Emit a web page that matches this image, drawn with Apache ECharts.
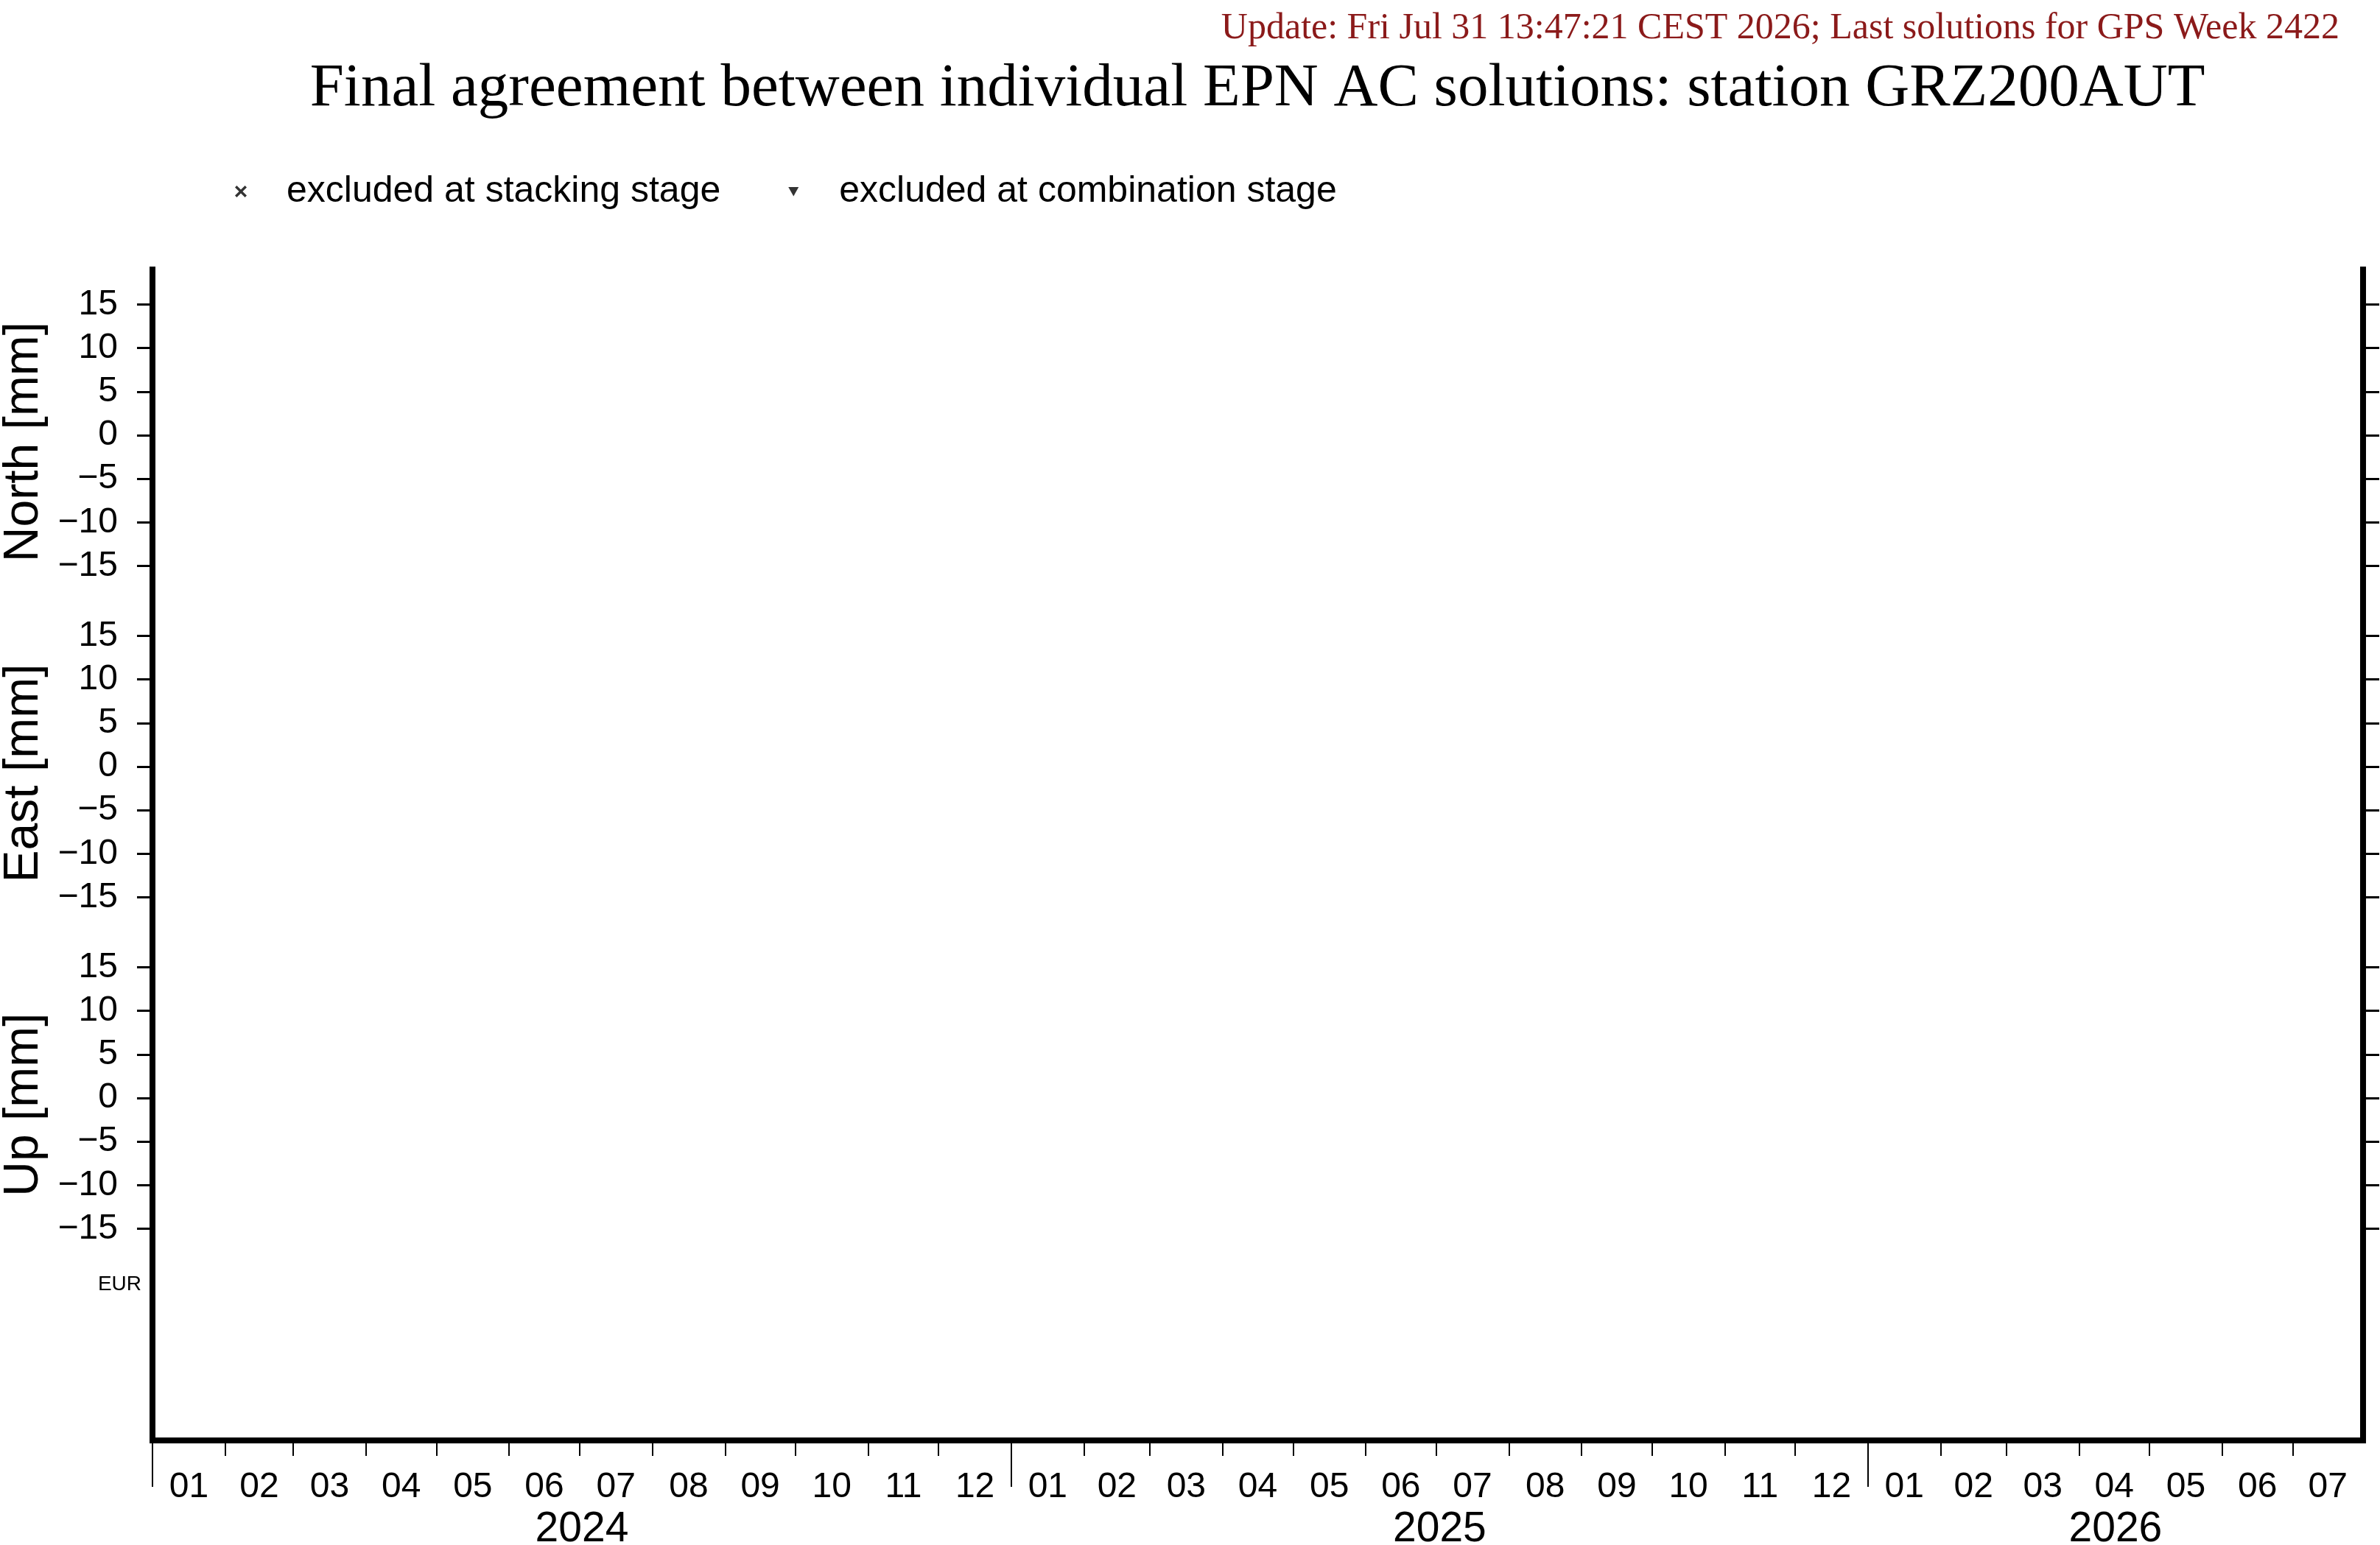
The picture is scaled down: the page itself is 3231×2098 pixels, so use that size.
<!DOCTYPE html>
<html><head><meta charset="utf-8">
<script src="https://cdn.jsdelivr.net/npm/echarts@6/dist/echarts.min.js"></script>
<style>html,body{margin:0;padding:0;background:#fff}#c{width:3231px;height:2098px}</style>
</head><body><div id="c"></div>
<script>
// ---- data / text ----
const TITLE = 'Final agreement between individual EPN AC solutions: station GRZ200AUT';
const UPDATE = 'Update: Fri Jul 31 13:47:21 CEST 2026; Last solutions for GPS Week 2422';
const LEGEND_NAMES = ['excluded at stacking stage', 'excluded at combination stage'];
const PANEL_NAMES = ['North [mm]', 'East [mm]', 'Up [mm]'];
const Y_TICKS = [-15, -10, -5, 0, 5, 10, 15];
const Y_MIN = -19, Y_MAX = 19;
const stackingExcluded = [];     // no points in this plot
const combinationExcluded = [];  // no points in this plot
const START = [2024, 1, 1];
const END = [2026, 7, 31];
const YEARS = [2024, 2025, 2026];
const MONTH_LABELS = ['01','02','03','04','05','06','07','08','09','10','11','12'];
const REF_FRAME = 'EUR';

// ---- helpers ----
const T0 = Date.UTC(START[0], START[1] - 1, START[2]);
const day = (y, m, d) => (Date.UTC(y, m - 1, d) - T0) / 864e5;
const X_MAX = day(END[0], END[1], END[2]);
const monthTicks = [], monthLabelVals = [], monthLabelMap = {};
YEARS.forEach(y => {
  for (let m = 1; m <= 12; m++) {
    const s = day(y, m, 1);
    if (s >= X_MAX) break;
    const e = Math.min(day(m === 12 ? y + 1 : y, m === 12 ? 1 : m + 1, 1), X_MAX);
    monthTicks.push(s);
    const mid = (s + e) / 2;
    monthLabelVals.push(mid);
    monthLabelMap[mid] = MONTH_LABELS[m - 1];
  }
});
const yearTicks = [], yearLabelVals = [], yearLabelMap = {};
YEARS.forEach(y => {
  const s = Math.max(day(y, 1, 1), 0), e = Math.min(day(y + 1, 1, 1), X_MAX);
  yearTicks.push(day(y, 1, 1));
  const mid = (s + e) / 2;
  yearLabelVals.push(mid);
  yearLabelMap[mid] = String(y);
});
const fmtY = v => (v < 0 ? '\u2212' + Math.abs(v) : String(v));

const SANS = 'Liberation Sans', SERIF = 'Liberation Serif';
const GL = 207, GR = 23, FRAME_TOP = 366, FRAME_BOTTOM = 142;
const PANEL_TOP = 366, PANEL_H = 450;

const grids = [{ left: GL, right: GR, top: FRAME_TOP, bottom: FRAME_BOTTOM, outerBoundsMode: 'none', containLabel: false }];
const xAxes = [
  { gridIndex: 0, type: 'value', min: 0, max: X_MAX, position: 'bottom',
    axisLine: { show: true, onZero: false, lineStyle: { color: '#000', width: 8, cap: 'square' } },
    axisTick: { show: true, customValues: monthTicks, length: 21, lineStyle: { color: '#000', width: 2 } },
    axisLabel: { show: true, customValues: monthLabelVals, margin: 40, formatter: v => monthLabelMap[v] || '',
      color: '#000', fontFamily: SANS, fontSize: 48 },
    splitLine: { show: false } },
  { gridIndex: 0, type: 'value', min: 0, max: X_MAX, position: 'bottom',
    axisLine: { show: false, onZero: false },
    axisTick: { show: true, customValues: yearTicks, length: 63, lineStyle: { color: '#000', width: 2 } },
    axisLabel: { show: true, customValues: yearLabelVals, margin: 93, formatter: v => yearLabelMap[v] || '',
      color: '#000', fontFamily: SANS, fontSize: 57 },
    splitLine: { show: false } }
];
const yAxes = [
  { gridIndex: 0, type: 'value', min: 0, max: 1, position: 'left',
    axisLine: { show: true, onZero: false, lineStyle: { color: '#000', width: 8, cap: 'square' } },
    axisTick: { show: false }, axisLabel: { show: false }, splitLine: { show: false } },
  { gridIndex: 0, type: 'value', min: 0, max: 1, position: 'right',
    axisLine: { show: true, onZero: false, lineStyle: { color: '#000', width: 8, cap: 'square' } },
    axisTick: { show: false }, axisLabel: { show: false }, splitLine: { show: false } }
];
PANEL_NAMES.forEach((name, i) => {
  const gi = i + 1;
  grids.push({ left: GL, right: GR, top: PANEL_TOP + i * PANEL_H, height: PANEL_H, outerBoundsMode: 'none', containLabel: false });
  xAxes.push({ gridIndex: gi, type: 'value', min: 0, max: X_MAX, show: false });
  yAxes.push({ gridIndex: gi, type: 'value', min: Y_MIN, max: Y_MAX, position: 'left',
    name: name, nameLocation: 'middle', nameGap: 141, nameMoveOverlap: false,
    nameTextStyle: { color: '#000', fontFamily: SANS, fontSize: 66, padding: [0, 18, 0, 0] },
    axisLine: { show: false, onZero: false },
    axisTick: { show: true, customValues: Y_TICKS, length: 21, lineStyle: { color: '#000', width: 3 } },
    axisLabel: { show: true, customValues: Y_TICKS, margin: 47, formatter: fmtY,
      color: '#000', fontFamily: SANS, fontSize: 48 },
    splitLine: { show: false } });
  yAxes.push({ gridIndex: gi, type: 'value', min: Y_MIN, max: Y_MAX, position: 'right',
    axisLine: { show: false, onZero: false },
    axisTick: { show: true, customValues: Y_TICKS, length: 22, lineStyle: { color: '#000', width: 3 } },
    axisLabel: { show: false }, splitLine: { show: false } });
});

const ICON_X = 'path://M0,1.5L1.5,0L5,3.5L8.5,0L10,1.5L6.5,5L10,8.5L8.5,10L5,6.5L1.5,10L0,8.5L3.5,5Z';
const ICON_TRI = 'path://M0,0M16,16M1,2L15,2L8,14.5Z';

const option = {
  backgroundColor: '#fff',
  animation: false,
  grid: grids, xAxis: xAxes, yAxis: yAxes,
  legend: {
    left: 319, top: 235, padding: 0, itemGap: 91, itemWidth: 16, itemHeight: 16,
    selectedMode: false,
    textStyle: { color: '#000', fontFamily: SANS, fontSize: 50, padding: [0, 0, 0, 49] },
    data: [{ name: LEGEND_NAMES[0], icon: ICON_X }, { name: LEGEND_NAMES[1], icon: ICON_TRI }]
  },
  series: [
    { name: LEGEND_NAMES[0], type: 'scatter', xAxisIndex: 2, yAxisIndex: 2, symbol: ICON_X,
      itemStyle: { color: '#000' }, data: stackingExcluded },
    { name: LEGEND_NAMES[1], type: 'scatter', xAxisIndex: 2, yAxisIndex: 2, symbol: ICON_TRI,
      itemStyle: { color: '#000' }, data: combinationExcluded }
  ],
  graphic: [
    { type: 'text', x: 3176, y: 39, style: { text: UPDATE, fill: '#8b1a1a', font: '50px "' + SERIF + '"', align: 'right', verticalAlign: 'middle' } },
    { type: 'text', x: 1707, y: 121, style: { text: TITLE, fill: '#000', font: '83px "' + SERIF + '"', align: 'center', verticalAlign: 'middle' } },
    { type: 'text', x: 192, y: 1744, style: { text: REF_FRAME, fill: '#000', font: '28px "' + SANS + '"', align: 'right', verticalAlign: 'middle' } }
  ]
};
const chart = echarts.init(document.getElementById('c'), null, { renderer: 'canvas' });
chart.setOption(option);
</script>
</body></html>
